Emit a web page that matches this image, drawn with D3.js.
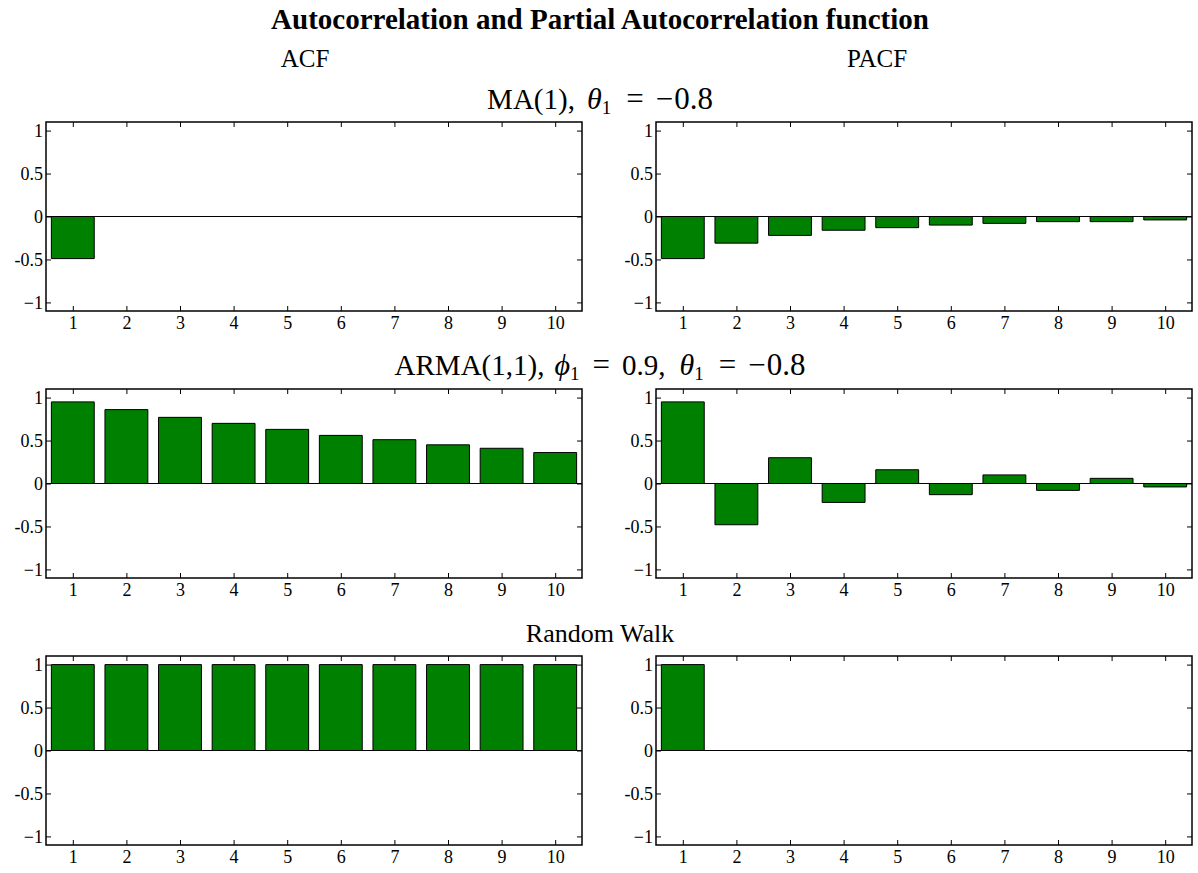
<!DOCTYPE html>
<html>
<head>
<meta charset="utf-8">
<script src="https://cdn.jsdelivr.net/npm/d3@7"></script>
<style>
  html, body { margin: 0; padding: 0; background: #fff; }
  svg { display: block; font-family: "Liberation Serif", "Times New Roman", serif; }
</style>
</head>
<body>
<svg id="chart"></svg>
<script>
const width = 1198;
const height = 873;

// data
const lags = [1, 2, 3, 4, 5, 6, 7, 8, 9, 10];
const maAcf = [-0.49, 0, 0, 0, 0, 0, 0, 0, 0, 0];
const maPacf = [-0.49, -0.31, -0.22, -0.16, -0.13, -0.10, -0.08, -0.06, -0.06, -0.04];
const armaAcf = [0.95, 0.86, 0.77, 0.70, 0.63, 0.56, 0.51, 0.45, 0.41, 0.36];
const armaPacf = [0.95, -0.48, 0.30, -0.22, 0.16, -0.13, 0.10, -0.08, 0.06, -0.04];
const rwAcf = [1, 1, 1, 1, 1, 1, 1, 1, 1, 1];
const rwPacf = [1, 0, 0, 0, 0, 0, 0, 0, 0, 0];
const yTicks = [-1, -0.5, 0, 0.5, 1];
const yTickLabels = ["\u22121", "-0.5", "0", "0.5", "1"];
const columnTitles = ["ACF", "PACF"];

const rows = [
    {series: [maAcf, maPacf]},
    {series: [armaAcf, armaPacf]},
    {series: [rwAcf, rwPacf]}
];

const serif = "Liberation Serif, Times New Roman, serif";

const svg = d3.select("#chart")
    .attr("width", width)
    .attr("height", height)
    .attr("viewBox", [0, 0, width, height]);

const colX = [46, 656];     // left edge of each axes box
const boxW = 536;
const rowTop = [122, 389, 656];
const boxH = 189;

const x = d3.scaleLinear([0.5, 10.5], [0, boxW]);
const y = d3.scaleLinear([-1.1, 1.1], [boxH, 0]);

// titles
svg.append("text")
    .attr("x", 600).attr("y", 29)
    .attr("text-anchor", "middle")
    .attr("font-size", 29).attr("font-weight", "bold")
    .text("Autocorrelation and Partial Autocorrelation function");

svg.selectAll("text.coltitle")
    .data(columnTitles)
    .join("text")
    .attr("class", "coltitle")
    .attr("x", (d, i) => [305, 877][i])
    .attr("y", 67)
    .attr("text-anchor", "middle")
    .attr("font-size", 25)
    .text(d => d);

function rowTitle(yPos, size, parts) {
    const t = svg.append("text")
        .attr("x", 600).attr("y", yPos)
        .attr("text-anchor", "middle")
        .attr("font-size", size);
    parts.forEach(p => {
        const s = t.append("tspan").text(p.t);
        if (p.italic) s.attr("font-style", "italic").attr("font-size", 30);
        if (p.sub) s.attr("font-size", 19).attr("dy", 5);
        if (p.up) s.attr("dy", -5);
        if (p.big) s.attr("font-size", 31);
        if (p.dx) s.attr("dx", p.dx);
    });
}

rowTitle(109, 29, [
    {t: "MA(1),"}, {t: "\u03b8", italic: true, dx: 12}, {t: "1", sub: true},
    {t: "=", up: true, big: true, dx: 15}, {t: "\u2212", big: true, dx: 12},
    {t: "0.8", big: true, dx: 1}
]);
rowTitle(375, 29, [
    {t: "ARMA(1,1),"}, {t: "\u03d5", italic: true, dx: 10}, {t: "1", sub: true},
    {t: "=", up: true, big: true, dx: 13}, {t: "0.9,", dx: 12},
    {t: "\u03b8", italic: true, dx: 14}, {t: "1", sub: true},
    {t: "=", up: true, big: true, dx: 15}, {t: "\u2212", big: true, dx: 12},
    {t: "0.8", big: true, dx: 1}
]);
rowTitle(642, 26, [{t: "Random Walk"}]);

rows.forEach((row, r) => {
    row.series.forEach((values, c) => {
        const g = svg.append("g")
            .attr("transform", `translate(${colX[c]},${rowTop[r]})`);

        const data = lags.map((lag, i) => ({lag, v: values[i]}));

        // bars (paths so zero-height bars still show their outline)
        g.append("g")
            .selectAll("path")
            .data(data)
            .join("path")
            .attr("fill", "#008000")
            .attr("stroke", "#000")
            .attr("stroke-width", 1)
            .attr("d", d => {
                const x0 = x(d.lag - 0.4), x1 = x(d.lag + 0.4);
                const y0 = y(0), y1 = y(d.v);
                return `M${x0},${y0}V${y1}H${x1}V${y0}Z`;
            });

        // zero line
        g.append("line")
            .attr("x1", 0).attr("x2", boxW)
            .attr("y1", y(0)).attr("y2", y(0))
            .attr("stroke", "#000").attr("stroke-width", 1.2);

        const tickFmt = d => yTickLabels[yTicks.indexOf(d)];

        g.append("g")
            .call(d3.axisLeft(y).tickValues(yTicks).tickFormat(tickFmt)
                .tickSizeInner(-5).tickSizeOuter(0).tickPadding(3))
            .attr("font-family", serif).attr("font-size", 18)
            .call(a => a.select(".domain").remove())
            .call(a => a.selectAll("text").style("font-family", serif));

        g.append("g")
            .attr("transform", `translate(${boxW},0)`)
            .call(d3.axisRight(y).tickValues(yTicks).tickFormat("")
                .tickSizeInner(-5).tickSizeOuter(0))
            .call(a => a.select(".domain").remove());

        g.append("g")
            .attr("transform", `translate(0,${boxH})`)
            .call(d3.axisBottom(x).tickValues(lags).tickFormat(d3.format("d"))
                .tickSizeInner(-5).tickSizeOuter(0).tickPadding(5))
            .attr("font-family", serif).attr("font-size", 18)
            .call(a => a.select(".domain").remove())
            .call(a => a.selectAll("text").style("font-family", serif));

        g.append("g")
            .call(d3.axisTop(x).tickValues(lags).tickFormat("")
                .tickSizeInner(-5).tickSizeOuter(0))
            .call(a => a.select(".domain").remove());

        g.append("rect")
            .attr("width", boxW).attr("height", boxH)
            .attr("fill", "none")
            .attr("stroke", "#000").attr("stroke-width", 1.5);
    });
});
</script>
</body>
</html>
